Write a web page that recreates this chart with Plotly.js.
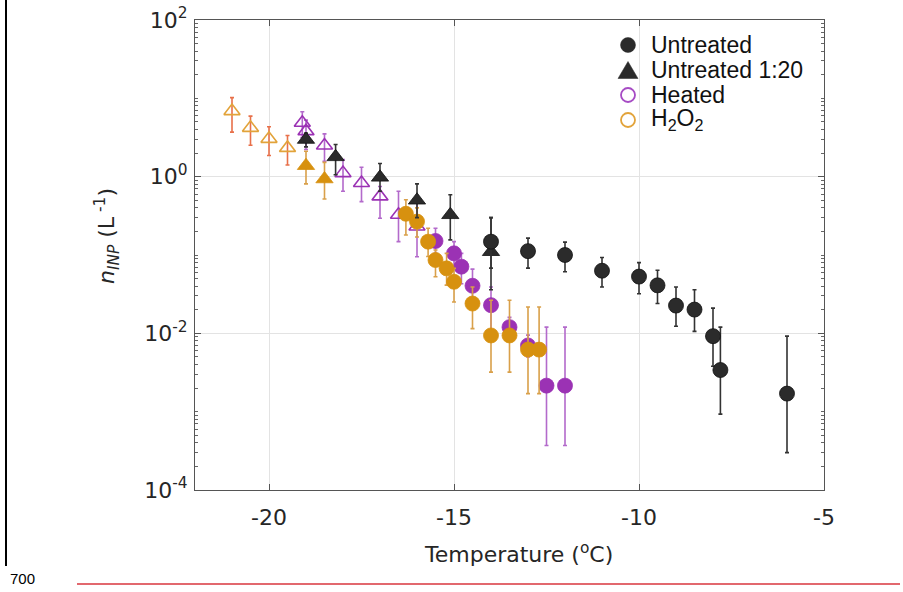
<!DOCTYPE html>
<html>
<head>
<meta charset="utf-8">
<script src="https://cdn.plot.ly/plotly-3.0.1.min.js"></script>
<style>
  html, body { margin: 0; padding: 0; background: #fff; }
  #chart { width: 903px; height: 592px; }
</style>
</head>
<body>
<div id="chart"></div>
<script>
// ---------- data ----------
const tempUntreated = [-14, -13, -12, -11, -10, -9.5, -9, -8.5, -8, -7.8, -6];
const nUntreated    = [0.148, 0.112, 0.100, 0.063, 0.053, 0.041, 0.0226, 0.0201, 0.0092, 0.0034, 0.0017];
const hiUntreated   = [0.30, 0.164, 0.146, 0.093, 0.080, 0.064, 0.039, 0.036, 0.021, 0.012, 0.0092];
const loUntreated   = [0.068, 0.068, 0.061, 0.039, 0.032, 0.024, 0.0123, 0.0106, 0.0038, 0.00093, 0.0003];

const tempDiluted = [-19, -18.2, -17, -16, -15.1, -14];
const nDiluted    = [2.98, 1.79, 0.98, 0.50, 0.326, 0.110];
const hiDiluted   = [3.6, 2.57, 1.47, 0.81, 0.587, 0.30];
const loDiluted   = [2.4, 1.06, 0.65, 0.30, 0.156, 0.036];

const tempHeatedTri = [-19.1, -19.0, -18.5, -18.0, -17.5, -17.0, -16.5, -16.0];
const nHeatedTri    = [4.88, 3.81, 2.50, 1.11, 0.83, 0.56, 0.326, 0.231];
const hiHeatedTri   = [6.75, 5.27, 3.52, 1.65, 1.32, 0.75, 0.65, 0.51];
const loHeatedTri   = [3.16, 2.22, 1.57, 0.65, 0.48, 0.295, 0.148, 0.095];

const tempHeatedCirc = [-15.5, -15.0, -14.8, -14.5, -14.0, -13.5, -13.0, -12.5, -12.0];
const nHeatedCirc    = [0.151, 0.105, 0.071, 0.0405, 0.0229, 0.012, 0.0070, 0.00215, 0.00215];
const hiHeatedCirc   = [0.22, 0.148, 0.105, 0.066, 0.039, 0.016, 0.0095, 0.012, 0.012];
const loHeatedCirc   = [0.105, 0.071, 0.043, 0.025, 0.011, 0.009, 0.005, 0.00037, 0.00037];

const tempH2O2OpenTri = [-21, -20.5, -20, -19.5];
const nH2O2OpenTri    = [6.87, 4.2, 3.04, 2.33];
const hiH2O2OpenTri   = [10.2, 5.93, 4.34, 3.36];
const loH2O2OpenTri   = [3.7, 2.52, 1.86, 1.41];

const tempH2O2Tri = [-19, -18.5];
const nH2O2Tri    = [1.38, 0.933];
const hiH2O2Tri   = [2.11, 1.52];
const loH2O2Tri   = [0.81, 0.518];

const tempH2O2Circ = [-16.3, -16.0, -15.7, -15.5, -15.2, -15.0, -14.5, -14.0, -13.5, -13.0, -12.7];
const nH2O2Circ    = [0.336, 0.267, 0.148, 0.0863, 0.0675, 0.0455, 0.024, 0.0094, 0.0094, 0.0062, 0.0062];
const hiH2O2Circ   = [0.507, 0.40, 0.22, 0.116, 0.105, 0.0675, 0.039, 0.0265, 0.0265, 0.0217, 0.0217];
const loH2O2Circ   = [0.18, 0.17, 0.0955, 0.0527, 0.0412, 0.0251, 0.0115, 0.0032, 0.0032, 0.0017, 0.0017];

const legendNames = ['Untreated', 'Untreated 1:20', 'Heated', 'H<sub>2</sub>O<sub>2</sub>'];
const xTickVals = [-20, -15, -10, -5];
const xTickText = ['-20', '-15', '-10', '-5'];
const yTickVals = [1e-4, 1e-2, 1, 100];
const yTickText = ['10<sup>-4</sup>', '10<sup>-2</sup>', '10<sup>0</sup>', '10<sup>2</sup>'];

// ---------- styling ----------
const BLACK = '#2b2b2b';
const PURPLE = '#9b32b4';
const PURPLE_LINE = '#a64bc4';
const PURPLE_BAR = '#b36acb';
const ORANGE = '#d7910f';
const ORANGE_BAR = '#d9a04a';
const ORANGE_OPEN = '#e2a33a';
const RED_BAR = '#e8704a';

function errs(vals, hi, lo) {
  return {
    type: 'data', symmetric: false,
    array: hi.map((h, i) => h - vals[i]),
    arrayminus: lo.map((l, i) => vals[i] - l)
  };
}

function series(x, y, hi, lo, symbol, color, lineColor, barColor, size) {
  const e = errs(y, hi, lo);
  e.color = barColor; e.thickness = 1.6; e.width = 2;
  return {
    type: 'scatter', mode: 'markers', x: x, y: y, showlegend: false,
    error_y: e,
    marker: { symbol: symbol, size: size, color: color,
              line: { color: lineColor, width: symbol.indexOf('open') >= 0 ? 1.6 : 0.8 } },
    hoverinfo: 'x+y'
  };
}

const traces = [
  series(tempHeatedTri, nHeatedTri, hiHeatedTri, loHeatedTri, 'triangle-up-open', PURPLE, PURPLE_LINE, PURPLE_BAR, 14),
  series(tempH2O2OpenTri, nH2O2OpenTri, hiH2O2OpenTri, loH2O2OpenTri, 'triangle-up-open', ORANGE_OPEN, ORANGE_OPEN, RED_BAR, 14),
  series(tempHeatedCirc, nHeatedCirc, hiHeatedCirc, loHeatedCirc, 'circle', PURPLE, PURPLE, PURPLE_BAR, 15),
  series(tempH2O2Circ, nH2O2Circ, hiH2O2Circ, loH2O2Circ, 'circle', ORANGE, ORANGE, ORANGE_BAR, 15),
  series(tempH2O2Tri, nH2O2Tri, hiH2O2Tri, loH2O2Tri, 'triangle-up', ORANGE, ORANGE, ORANGE_BAR, 15),
  series(tempDiluted, nDiluted, hiDiluted, loDiluted, 'triangle-up', BLACK, '#111', '#333', 15),
  series(tempUntreated, nUntreated, hiUntreated, loUntreated, 'circle', BLACK, '#111', '#333', 15)
];

// minor tick positions on the log axis
const minorVals = [];
for (let p = -4; p <= 1; p++) {
  for (let k = 1; k <= 9; k++) {
    if (k === 1 && p % 2 === 0) continue;
    minorVals.push(k * Math.pow(10, p));
  }
}

const L = 195, R = 824, T = 20, B = 490;
const W = 903, H = 592;
const px = (x) => (x - L) / (R - L);
const py = (y) => (B - y) / (B - T);

const tickFont = { family: 'DejaVu Sans, Verdana, sans-serif', size: 22, color: '#262626' };

// ---------- legend (drawn as paper-space marks + text) ----------
const legX = 628, legTextX = 649, legRows = [45, 70, 95, 120];
const legFont = { family: 'Liberation Sans, Arial, sans-serif', size: 23, color: '#111' };
const legendShapes = [];
function circleShape(cx, cy, r, fill, line, lw) {
  return { type: 'circle', xref: 'paper', yref: 'paper',
    x0: px(cx - r), x1: px(cx + r), y0: py(cy + r), y1: py(cy - r),
    fillcolor: fill, line: { color: line, width: lw } };
}
function triShape(cx, cy, w, h, fill) {
  const p = 'M ' + px(cx - w / 2) + ' ' + py(cy + h / 2) +
            ' L ' + px(cx + w / 2) + ' ' + py(cy + h / 2) +
            ' L ' + px(cx) + ' ' + py(cy - h / 2) + ' Z';
  return { type: 'path', xref: 'paper', yref: 'paper', path: p,
    fillcolor: fill, line: { color: fill, width: 0.5 } };
}
legendShapes.push(circleShape(legX, legRows[0], 7.5, BLACK, BLACK, 0.5));
legendShapes.push(triShape(legX, legRows[1], 20, 17, BLACK));
legendShapes.push(circleShape(legX, legRows[2], 7, 'rgba(0,0,0,0)', PURPLE_LINE, 1.8));
legendShapes.push(circleShape(legX, legRows[3], 7, 'rgba(0,0,0,0)', ORANGE_OPEN, 1.8));

const legendAnnotations = legendNames.map((nm, i) => ({
  xref: 'paper', yref: 'paper', x: px(legTextX), y: py(legRows[i]),
  xanchor: 'left', yanchor: 'middle', text: nm, showarrow: false, font: legFont
}));

const layout = {
  width: W, height: H,
  margin: { l: L, r: W - R, t: T, b: H - B, pad: 0 },
  paper_bgcolor: '#fff', plot_bgcolor: '#fff',
  showlegend: false,
  xaxis: {
    type: 'linear', range: [-22, -5],
    tickmode: 'array', tickvals: xTickVals, ticktext: xTickText,
    ticks: 'inside', ticklen: 6, tickcolor: '#555', tickwidth: 1,
    showline: true, linecolor: '#555', linewidth: 1, mirror: 'allticks',
    showgrid: true, gridcolor: '#e3e3e3', gridwidth: 1,
    zeroline: false, tickfont: tickFont, ticklabelstandoff: 8
  },
  yaxis: {
    type: 'log', range: [-4, 2],
    tickmode: 'array', tickvals: yTickVals, ticktext: yTickText,
    ticks: 'inside', ticklen: 6, tickcolor: '#555', tickwidth: 1,
    showline: true, linecolor: '#555', linewidth: 1, mirror: 'allticks',
    showgrid: true, gridcolor: '#e3e3e3', gridwidth: 1,
    zeroline: false, tickfont: tickFont, ticklabelstandoff: 2,
    minor: { tickmode: 'array', tickvals: minorVals, ticks: 'inside', ticklen: 3, tickcolor: '#666', showgrid: false }
  },
  annotations: [
    {
      xref: 'paper', yref: 'paper', x: px(518), y: py(553), xanchor: 'center', yanchor: 'middle',
      text: 'Temperature (<sup>o</sup>C)', showarrow: false,
      font: { family: 'DejaVu Sans, Verdana, sans-serif', size: 22, color: '#262626' }
    },
    {
      xref: 'paper', yref: 'paper', x: px(107), y: py(236), xanchor: 'center', yanchor: 'middle',
      text: '<i>n</i><sub><i>INP</i></sub> (L<sup> -1</sup>)', showarrow: false, textangle: -90,
      font: { family: 'DejaVu Sans, Verdana, sans-serif', size: 22, color: '#262626' }
    },
    {
      xref: 'paper', yref: 'paper', x: px(8), y: py(578), xanchor: 'left', yanchor: 'middle',
      text: '700', showarrow: false,
      font: { family: 'Liberation Sans, Arial, sans-serif', size: 15, color: '#000' }
    }
  ].concat(legendAnnotations),
  shapes: [
    { type: 'line', xref: 'paper', yref: 'paper', x0: px(6), x1: px(6), y0: py(0), y1: py(566),
      line: { color: '#000', width: 2 } },
    { type: 'line', xref: 'paper', yref: 'paper', x0: px(77), x1: px(900), y0: py(584), y1: py(584),
      line: { color: '#d9363e', width: 1.5 } }
  ].concat(legendShapes)
};

Plotly.newPlot('chart', traces, layout, { displayModeBar: false, staticPlot: true });
</script>
</body>
</html>
